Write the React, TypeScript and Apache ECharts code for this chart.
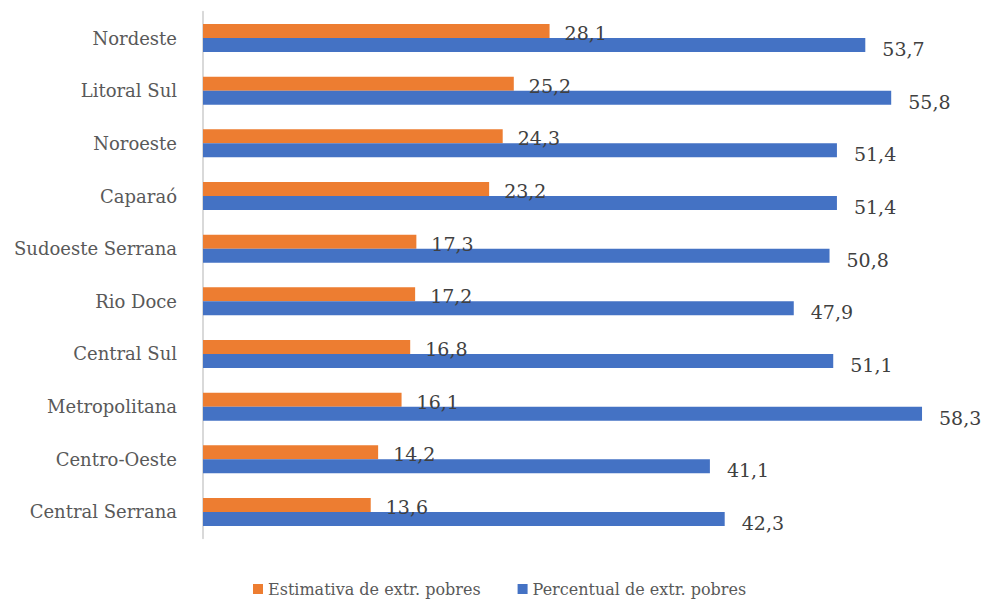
import React, { useEffect, useRef } from "react";
import * as echarts from "echarts";

const categories = [
  "Nordeste",
  "Litoral Sul",
  "Noroeste",
  "Caparaó",
  "Sudoeste Serrana",
  "Rio Doce",
  "Central Sul",
  "Metropolitana",
  "Centro-Oeste",
  "Central Serrana",
];
const estimativa = [28.1, 25.2, 24.3, 23.2, 17.3, 17.2, 16.8, 16.1, 14.2, 13.6];
const percentual = [53.7, 55.8, 51.4, 51.4, 50.8, 47.9, 51.1, 58.3, 41.1, 42.3];
const seriesNames = ["Estimativa de extr. pobres", "Percentual de extr. pobres"];

const FONT = "DejaVu Serif";
const fmt = (p: any) => Number(p.value).toFixed(1).replace(".", ",");

export default function App() {
  const ref = useRef<HTMLDivElement>(null);
  useEffect(() => {
    if (!ref.current) return;
    const chart = echarts.init(ref.current, undefined, { renderer: "svg" });
    chart.setOption({
      animation: false,
      backgroundColor: "#ffffff",
      textStyle: { fontFamily: FONT },
      grid: { left: 203, right: 40, top: 11.7, bottom: 64.7, containLabel: false },
      legend: {
        left: 253,
        top: 581,
        padding: 0,
        itemWidth: 10,
        itemHeight: 10,
        itemGap: 37,
        icon: "rect",
        data: seriesNames,
        textStyle: { fontFamily: FONT, fontSize: 16, color: "#595959" },
      },
      xAxis: {
        type: "value",
        min: 0,
        max: 60,
        show: false,
      },
      yAxis: {
        type: "category",
        inverse: true,
        data: categories,
        axisLine: { show: true, lineStyle: { color: "#d9d9d9", width: 2 } },
        axisTick: { show: false },
        axisLabel: { fontFamily: FONT, fontSize: 18, color: "#595959", margin: 26 },
      },
      series: [
        {
          name: seriesNames[0],
          type: "bar",
          data: estimativa,
          barWidth: 14,
          barGap: "0%",
          itemStyle: { color: "#ed7d31" },
          label: {
            show: true,
            position: "right",
            distance: 15,
            offset: [0, 2],
            formatter: fmt,
            fontFamily: FONT,
            fontSize: 19,
            color: "#404040",
          },
        },
        {
          name: seriesNames[1],
          type: "bar",
          data: percentual,
          barWidth: 14,
          barGap: "0%",
          itemStyle: { color: "#4472c4" },
          label: {
            show: true,
            position: "right",
            distance: 17,
            offset: [0, 4],
            formatter: fmt,
            fontFamily: FONT,
            fontSize: 19,
            color: "#404040",
          },
        },
      ],
    });
    return () => chart.dispose();
  }, []);
  return (
    <div
      ref={ref}
      style={{ position: "absolute", left: 0, top: 0, width: 983, height: 603 }}
    />
  );
}
